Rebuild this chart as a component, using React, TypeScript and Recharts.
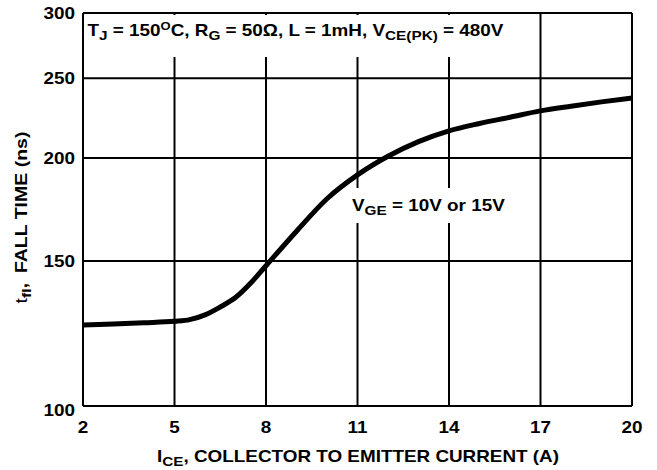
import { CartesianGrid, Line, LineChart, XAxis, YAxis } from "recharts";

// I_CE (A) vs t_fI (ns)
const currentA = [2, 3, 4, 5, 5.5, 6, 6.5, 7, 7.5, 8, 9, 10, 11, 12, 13, 14, 15, 16, 17, 18, 19, 20];
const fallTimeNs = [
  125.4, 125.8, 126.2, 126.7, 127.3, 129.0, 131.9, 135.4, 141.0, 148.0, 163.0, 178.5,
  190.8, 201.0, 209.4, 215.8, 220.3, 224.2, 228.2, 231.2, 234.0, 236.5,
];
const xTicks = [2, 5, 8, 11, 14, 17, 20];
const yTicks = [100, 150, 200, 250, 300];

const data = currentA.map((ice, i) => ({ ice, tfi: fallTimeNs[i] }));

const FONT = "'Liberation Sans', Arial, Helvetica, sans-serif";
const SX = 1.18; // source glyphs are a bit wide

const txt = { fontFamily: FONT, fontWeight: 700, fontSize: 16, fill: "#000" };

function XTick({ x, y, payload }: any) {
  return (
    <g transform={`translate(${x},${y + 27}) scale(${SX},1)`}>
      <text x={0} y={0} textAnchor="middle" {...txt}>
        {payload.value}
      </text>
    </g>
  );
}

function YTick({ x, y, payload }: any) {
  const shift = payload.value === 100 ? 10 : 6;
  return (
    <g transform={`translate(${x - 8},${y + shift}) scale(${SX},1)`}>
      <text x={0} y={0} textAnchor="end" {...txt}>
        {payload.value}
      </text>
    </g>
  );
}

export default function App() {
  return (
    <div style={{ position: "absolute", left: 0, top: 0, background: "#fff" }}>
      <LineChart
        width={657}
        height={470}
        data={data}
        margin={{ top: 13, right: 25, bottom: 0, left: 0 }}
      >
        <CartesianGrid stroke="#000" strokeWidth={2} />
        <XAxis
          dataKey="ice"
          type="number"
          domain={[2, 20]}
          ticks={xTicks}
          height={64}
          axisLine={false}
          tickLine={false}
          tickSize={0}
          tickMargin={0}
          tick={<XTick />}
        />
        <YAxis
          type="number"
          scale="log"
          domain={[100, 300]}
          ticks={yTicks}
          width={83}
          axisLine={false}
          tickLine={false}
          tickSize={0}
          tickMargin={0}
          tick={<YTick />}
          allowDataOverflow
        />

        {/* annotation boxes knock out the grid behind them */}
        <rect x={85} y={15} width={432} height={42} fill="#fff" />
        <rect x={348} y={188} width={162} height={35} fill="#fff" />

        <g transform={`translate(87.5,35.5) scale(${SX},1)`}>
          <text x={0} y={0} {...txt}>
            T<tspan fontSize={13} dy={4}>J</tspan>
            <tspan dy={-4}> = 150</tspan>
            <tspan fontSize={11} dy={-6}>O</tspan>
            <tspan dy={6}>C, R</tspan>
            <tspan fontSize={13} dy={4}>G</tspan>
            <tspan dy={-4}> = 50Ω, L = 1mH, V</tspan>
            <tspan fontSize={13} dy={4}>CE(PK)</tspan>
            <tspan dy={-4}> = 480V</tspan>
          </text>
        </g>

        <g transform={`translate(352,210.5) scale(${SX},1)`}>
          <text x={0} y={0} {...txt}>
            V<tspan fontSize={13} dy={4}>GE</tspan>
            <tspan dy={-4}> = 10V or 15V</tspan>
          </text>
        </g>

        <g transform={`translate(358,462) scale(${SX},1)`}>
          <text x={0} y={0} textAnchor="middle" {...txt}>
            I<tspan fontSize={13} dy={4}>CE</tspan>
            <tspan dy={-4}>, COLLECTOR TO EMITTER CURRENT (A)</tspan>
          </text>
        </g>

        <g transform="translate(27,217.5) rotate(-90) scale(1.22,1)">
          <text x={0} y={0} textAnchor="middle" {...txt}>
            <tspan fontWeight={400}>t</tspan>
            <tspan fontSize={13} dy={4}>fI</tspan>
            <tspan dy={-4}>,</tspan>
            <tspan dx={8}>FALL TIME (ns)</tspan>
          </text>
        </g>

        <Line
          type="monotone"
          dataKey="tfi"
          stroke="#000"
          strokeWidth={5}
          dot={false}
          isAnimationActive={false}
        />
      </LineChart>
    </div>
  );
}
